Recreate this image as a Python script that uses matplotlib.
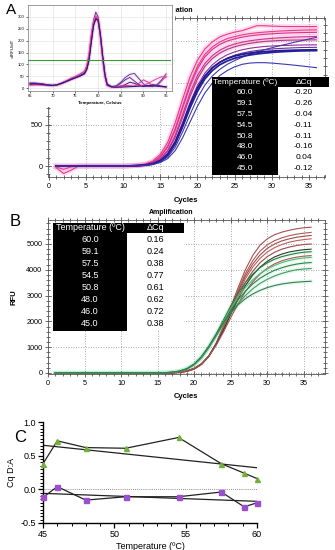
import numpy as np
import matplotlib
matplotlib.use("Agg")
import matplotlib.pyplot as plt
from matplotlib.patches import Rectangle
from matplotlib.ticker import MultipleLocator

plt.rcParams['font.family'] = ['Liberation Sans', 'DejaVu Sans']

W, H = 335, 550

# ---- data -------------------------------------------------------------
cycles = np.arange(1, 37)
temps = [60.0, 59.1, 57.5, 54.5, 50.8, 48.0, 46.0, 45.0]
dcq_a = [-0.20, -0.26, -0.04, -0.11, -0.11, -0.16, 0.04, -0.12]
dcq_b = [0.16, 0.24, 0.38, 0.77, 0.61, 0.62, 0.72, 0.38]

# panel A amplification, cycles 1-9 then cycles 10-36
a_early = [
    [-20, -90, -50, 0, 0, 0, 0, 0, 0],
    [-10, -40, -10, 0, 0, 0, 0, 0, 0],
]
a_curves = [
    [0, 5, 10, 25, 60, 140, 285, 520, 805, 1075, 1275, 1410, 1495, 1555, 1588, 1613, 1630, 1660, 1690, 1690, 1685, 1682, 1680, 1680, 1680, 1680, 1680],
    [0, 4, 9, 20, 50, 115, 240, 450, 720, 990, 1200, 1345, 1435, 1495, 1535, 1560, 1580, 1595, 1605, 1613, 1620, 1626, 1630, 1634, 1637, 1639, 1640],
    [0, 4, 8, 20, 48, 110, 230, 430, 700, 960, 1170, 1315, 1405, 1465, 1505, 1532, 1552, 1567, 1578, 1586, 1593, 1598, 1602, 1605, 1607, 1609, 1610],
    [0, 3, 7, 16, 38, 90, 190, 370, 620, 880, 1090, 1235, 1330, 1395, 1440, 1470, 1492, 1508, 1520, 1530, 1538, 1544, 1549, 1553, 1556, 1558, 1560],
    [0, 3, 7, 15, 35, 82, 175, 345, 585, 840, 1050, 1200, 1295, 1360, 1405, 1437, 1460, 1477, 1490, 1500, 1507, 1512, 1515, 1517, 1518, 1519, 1520],
    [0, 3, 6, 13, 30, 70, 150, 300, 520, 760, 970, 1120, 1220, 1290, 1340, 1375, 1400, 1418, 1430, 1440, 1446, 1450, 1453, 1456, 1458, 1459, 1460],
    [0, 2, 5, 12, 27, 62, 135, 275, 485, 720, 925, 1075, 1180, 1250, 1300, 1335, 1360, 1378, 1392, 1402, 1410, 1416, 1420, 1424, 1427, 1429, 1430],
    [0, 2, 4, 9, 21, 50, 110, 225, 410, 620, 820, 975, 1085, 1165, 1225, 1270, 1310, 1345, 1375, 1400, 1425, 1448, 1468, 1490, 1510, 1530, 1550],
    [0, 2, 5, 12, 28, 65, 140, 285, 500, 740, 940, 1085, 1185, 1250, 1295, 1325, 1345, 1360, 1370, 1378, 1384, 1389, 1392, 1395, 1397, 1399, 1400],
    [0, 2, 5, 11, 26, 60, 130, 265, 470, 700, 900, 1050, 1150, 1220, 1265, 1298, 1320, 1337, 1350, 1360, 1368, 1375, 1380, 1384, 1387, 1389, 1390],
    [0, 2, 4, 8, 18, 42, 90, 185, 340, 530, 720, 880, 1000, 1090, 1150, 1195, 1225, 1240, 1245, 1245, 1240, 1232, 1224, 1215, 1205, 1195, 1185],
]
a_colors = ['#f0368e', '#e83a92', '#d8358f', '#c93592', '#b0358f', '#8a2f98',
            '#6e2c9a', '#4a3aa8', '#1c1a8c', '#24229a', '#3a3ab0']

# panel B amplification, cycles 10-36 (flat before)
b_curves = [
    [0, 0, 0, 0, 0, 0, 0, 5, 20, 60, 150, 330, 650, 1150, 1800, 2550, 3300, 4000, 4550, 4950, 5200, 5360, 5460, 5530, 5590, 5630, 5650],
    [0, 0, 0, 0, 0, 0, 0, 5, 20, 60, 150, 330, 640, 1130, 1760, 2480, 3200, 3850, 4350, 4720, 4970, 5130, 5240, 5320, 5380, 5420, 5450],
    [0, 0, 0, 0, 0, 0, 2, 8, 25, 70, 165, 350, 660, 1140, 1750, 2450, 3130, 3750, 4220, 4570, 4830, 5000, 5120, 5200, 5260, 5300, 5330],
    [0, 0, 0, 0, 0, 0, 2, 8, 25, 70, 165, 345, 650, 1120, 1720, 2400, 3060, 3650, 4100, 4440, 4690, 4860, 4980, 5070, 5130, 5170, 5200],
    [0, 0, 0, 0, 0, 0, 2, 8, 25, 68, 160, 335, 630, 1080, 1660, 2310, 2950, 3500, 3940, 4270, 4510, 4680, 4800, 4880, 4940, 4980, 5000],
    [0, 0, 0, 0, 0, 0, 3, 10, 30, 80, 180, 360, 660, 1100, 1650, 2270, 2860, 3380, 3790, 4100, 4330, 4500, 4610, 4690, 4740, 4780, 4800],
    [0, 0, 0, 0, 1, 3, 10, 25, 65, 150, 320, 600, 1000, 1500, 2050, 2600, 3100, 3500, 3830, 4080, 4270, 4410, 4510, 4580, 4640, 4680, 4700],
    [0, 0, 0, 0, 0, 0, 3, 10, 30, 80, 180, 360, 650, 1070, 1580, 2140, 2680, 3150, 3530, 3830, 4060, 4230, 4350, 4430, 4490, 4530, 4550],
    [0, 0, 0, 0, 1, 3, 10, 26, 66, 150, 315, 590, 980, 1460, 1980, 2490, 2940, 3310, 3610, 3850, 4030, 4170, 4280, 4360, 4420, 4460, 4480],
    [0, 0, 0, 0, 1, 3, 11, 28, 70, 160, 330, 610, 1000, 1460, 1950, 2420, 2830, 3170, 3450, 3670, 3840, 3980, 4080, 4160, 4220, 4260, 4280],
    [0, 0, 0, 0, 1, 4, 11, 28, 70, 160, 330, 600, 980, 1420, 1880, 2310, 2690, 3000, 3260, 3470, 3630, 3760, 3860, 3940, 4000, 4030, 4050],
    [0, 0, 0, 0, 1, 4, 12, 30, 75, 170, 350, 640, 1040, 1500, 1950, 2330, 2640, 2880, 3060, 3200, 3310, 3390, 3450, 3490, 3520, 3540, 3555],
]
b_colors = ['#a8504c', '#b0585a', '#a04a48', '#b8605c', '#9c4a46', '#303a30',
            '#2e7a40', '#a85a54', '#58b878', '#2f7f45', '#4a9a60', '#3c7a50']
b_green = [False, False, False, False, False, False, True, False, True, True, True, True]

# melt curves (inset)
melt_t = [65, 66, 67, 68, 69, 70, 71, 72, 73, 74, 75, 76, 77, 77.5, 78, 78.5, 79, 79.5,
          80, 80.5, 81, 81.5, 82, 83, 84, 85, 86, 87, 88, 89, 90, 91, 92, 93, 94, 95]
melt_curves = [
    [18, 19, 18, 16, 13, 12, 15, 22, 30, 38, 45, 52, 62, 80, 120, 200, 270, 295, 285, 220, 130, 55, 15, 6, 5, 8, 15, 25, 20, 12, 8, 10, 15, 12, 8, 5],
    [22, 22, 20, 17, 14, 12, 14, 20, 28, 36, 44, 53, 65, 85, 130, 215, 285, 320, 300, 230, 135, 58, 14, 5, 8, 20, 35, 45, 30, 15, 8, 10, 12, 8, 6, 4],
    [15, 16, 15, 14, 12, 11, 14, 21, 30, 40, 48, 57, 70, 92, 140, 220, 278, 300, 290, 215, 125, 50, 12, 5, 6, 10, 12, 10, 8, 20, 35, 25, 12, 10, 30, 50],
    [20, 20, 19, 17, 13, 11, 13, 19, 27, 35, 43, 50, 60, 78, 115, 190, 260, 290, 282, 225, 140, 62, 18, 7, 10, 25, 45, 58, 62, 40, 18, 8, 6, 15, 35, 60],
    [12, 13, 13, 12, 11, 10, 13, 21, 31, 42, 50, 60, 72, 95, 145, 225, 280, 305, 293, 218, 122, 48, 10, 4, 5, 6, 7, 8, 9, 10, 12, 20, 30, 40, 48, 45],
    [17, 18, 17, 15, 12, 11, 14, 21, 29, 37, 44, 51, 61, 79, 118, 195, 265, 292, 288, 228, 138, 57, 14, 5, 4, 4, 5, 6, 7, 8, 9, 10, 10, 9, 8, 6],
]
melt_colors = ['#2a2090', '#6a2c9a', '#d43a90', '#4a48b0', '#f04898', '#1c1a80']
melt_threshold = 120


def box(l, t, r, b):
    return [l / W, 1 - b / H, (r - l) / W, (b - t) / H]


def fpos(x, y):
    return x / W, 1 - y / H


def biorad(ax, ymajor, yminor):
    ax.xaxis.set_major_locator(MultipleLocator(5))
    ax.xaxis.set_minor_locator(MultipleLocator(1))
    ax.yaxis.set_major_locator(MultipleLocator(ymajor))
    ax.yaxis.set_minor_locator(MultipleLocator(yminor))
    ax.tick_params(which='both', direction='inout', top=True, right=True,
                   labelsize=5.2, width=0.5, pad=2, colors='#333333', labelcolor='black')
    ax.tick_params(which='major', length=4)
    ax.tick_params(which='minor', length=2.5)
    ax.grid(True, which='major', ls=(0, (1, 2)), lw=0.6, color='#909090')
    for s in ax.spines.values():
        s.set_linewidth(0.6)
        s.set_color('#555555')


def table(x0, xm, x1, ytop, yhead, dy, vals, fs):
    rows = len(temps)
    ybot = yhead + dy * rows + 1
    fig.patches.append(Rectangle(fpos(x0, ybot), (x1 - x0) / W, (ybot - ytop) / H,
                                 transform=fig.transFigure, fc='white', ec='none', zorder=2))
    fig.patches.append(Rectangle(fpos(x0, ybot), (xm - x0) / W, (ybot - ytop) / H,
                                 transform=fig.transFigure, fc='black', ec='none', zorder=2.1))
    fig.patches.append(Rectangle(fpos(x0, yhead), (x1 - x0) / W, (yhead - ytop) / H,
                                 transform=fig.transFigure, fc='black', ec='none', zorder=2.1))
    yc = (ytop + yhead) / 2
    fig.text(*fpos((x0 + xm) / 2, yc), 'Temperature (ºC)', color='white', fontsize=fs,
             ha='center', va='center', zorder=3)
    fig.text(*fpos((xm + x1) / 2, yc), 'ΔCq', color='white', fontsize=fs,
             ha='center', va='center', zorder=3)
    for i, (t, v) in enumerate(zip(temps, vals)):
        y = yhead + dy * (i + 0.5)
        fig.text(*fpos((x0 + xm) / 2, y), f'{t:.1f}', color='white', fontsize=fs,
                 ha='center', va='center', zorder=3)
        fig.text(*fpos((xm + x1) / 2, y), f'{v:.2f}', color='black', fontsize=fs,
                 ha='center', va='center', zorder=3)


fig = plt.figure(figsize=(W / 100, H / 100), dpi=100)

# ---- panel A ----------------------------------------------------------
ax_a = fig.add_axes(box(48, 18, 325, 177))
biorad(ax_a, 500, 100)
for i, (vals, col) in enumerate(zip(a_curves, a_colors)):
    early = a_early[i] if i < len(a_early) else [0] * 9
    y = np.array(early + vals)
    if i < 5:
        ax_a.plot(cycles, y, color='#ff9ccc', lw=3.5, alpha=0.35, zorder=1)
    ax_a.plot(cycles, y, color=col, lw=1.3 if i in (8, 9) else 0.8, zorder=2)
ax_a.set_xlim(-0.1, 37.15)
ax_a.set_ylim(-132, 1783)
ax_a.set_xlabel('Cycles', fontsize=5.5, fontweight='bold', labelpad=5)
fig.text(*fpos(171, 10), 'Amplification', fontsize=5, fontweight='bold',
         ha='center', va='center', zorder=1)
table(212, 278, 329, 77, 87, 10.9, dcq_a, 6)

# inset melt curve
fig.patches.append(Rectangle(fpos(0, 107), 175 / W, 107 / H, transform=fig.transFigure,
                             fc='white', ec='none', zorder=1.5))
ax_m = fig.add_axes(box(28, 5, 172, 91))
ax_m.set_zorder(1.6)
for vals, col in zip(melt_curves, melt_colors):
    ax_m.plot(melt_t, vals, color='#ffb0d8', lw=2.5, alpha=0.3)
for vals, col in zip(melt_curves, melt_colors):
    ax_m.plot(melt_t, vals, color=col, lw=0.7)
ax_m.axhline(melt_threshold, xmin=0.0, xmax=0.985, color='#3a9a3a', lw=0.8)
ax_m.set_xlim(64.55, 96.3)
ax_m.set_ylim(-12, 350)
ax_m.set_xticks(range(65, 96, 5))
ax_m.set_yticks(range(0, 301, 50))
ax_m.grid(True, color='#dddddd', lw=0.4)
ax_m.tick_params(labelsize=3, length=1.5, width=0.4, pad=1)
for s in ax_m.spines.values():
    s.set_linewidth(0.5)
    s.set_color('#777777')
ax_m.set_xlabel('Temperature, Celsius', fontsize=3.2, fontweight='bold', labelpad=1.5)
ax_m.set_ylabel('-dRFU/dT', fontsize=3.2, labelpad=2)
fig.text(*fpos(11, 10), 'A', fontsize=11, ha='center', va='center', zorder=5)

# ---- panel B ----------------------------------------------------------
ax_b = fig.add_axes(box(48, 220, 325, 374))
biorad(ax_b, 1000, 200)
for vals, col, green in zip(b_curves, b_colors, b_green):
    y = np.array([0] * 9 + vals)
    if green:
        ax_b.plot(cycles, y, color='#a8f0d0', lw=3, alpha=0.3, zorder=1)
    ax_b.plot(cycles, y, color=col, lw=0.8, zorder=2)
ax_b.set_xlim(0, 37.9)
ax_b.set_ylim(-40, 5930)
ax_b.set_xlabel('Cycles', fontsize=5.5, fontweight='bold', labelpad=5)
ax_b.set_ylabel('RFU', fontsize=5.5, fontweight='bold', labelpad=6)
fig.text(*fpos(171, 213), 'Amplification', fontsize=5, fontweight='bold', ha='center', va='center')
table(53, 127, 184, 223, 233, 12.1, dcq_b, 6.5)
fig.text(*fpos(15, 221), 'B', fontsize=12, ha='center', va='center')

# ---- panel C ----------------------------------------------------------
ax_c = fig.add_axes(box(43, 422, 257, 523))
ax_c.axhline(0, color='#666666', lw=0.6, ls=(0, (1, 1.5)))
t_sorted = np.array(temps)[::-1]
b_sorted = np.array(dcq_b)[::-1]
a_sorted = np.array(dcq_a)[::-1]
for yv, col, mk in [(b_sorted, '#72b03c', '^'), (a_sorted, '#9b4fd0', 's')]:
    ax_c.plot(t_sorted, yv, color='#222222', lw=0.9, zorder=2)
    fit = np.polyfit(t_sorted, yv, 1)
    ax_c.plot([45, 60], np.polyval(fit, [45, 60]), color='#222222', lw=0.9, zorder=2)
    ax_c.plot(t_sorted, yv, ls='none', marker=mk, ms=3.6, color=col, mec=col, zorder=3, clip_on=False)
ax_c.set_xlim(45, 60)
ax_c.set_ylim(-0.5, 1.0)
ax_c.set_xticks([45, 50, 55, 60])
ax_c.set_yticks([-0.5, 0.0, 0.5, 1.0])
ax_c.xaxis.set_minor_locator(MultipleLocator(1))
ax_c.yaxis.set_minor_locator(MultipleLocator(0.05))
ax_c.set_yticklabels(['-0.5', '0.0', '0.5', '1.0'])
ax_c.spines['top'].set_visible(False)
ax_c.spines['right'].set_visible(False)
for s in ('left', 'bottom'):
    ax_c.spines[s].set_linewidth(1.0)
ax_c.tick_params(which='major', labelsize=6.5, length=3.5, width=0.9, pad=1.5)
ax_c.tick_params(which='minor', length=2, width=0.7)
ax_c.set_xlabel('Temperature (ºC)', fontsize=6.5, labelpad=2)
ax_c.set_ylabel('Cq D:A', fontsize=6.5, labelpad=3)
fig.text(*fpos(20, 438), 'C', fontsize=12, ha='center', va='center')

fig.savefig('out.png', dpi=100)
